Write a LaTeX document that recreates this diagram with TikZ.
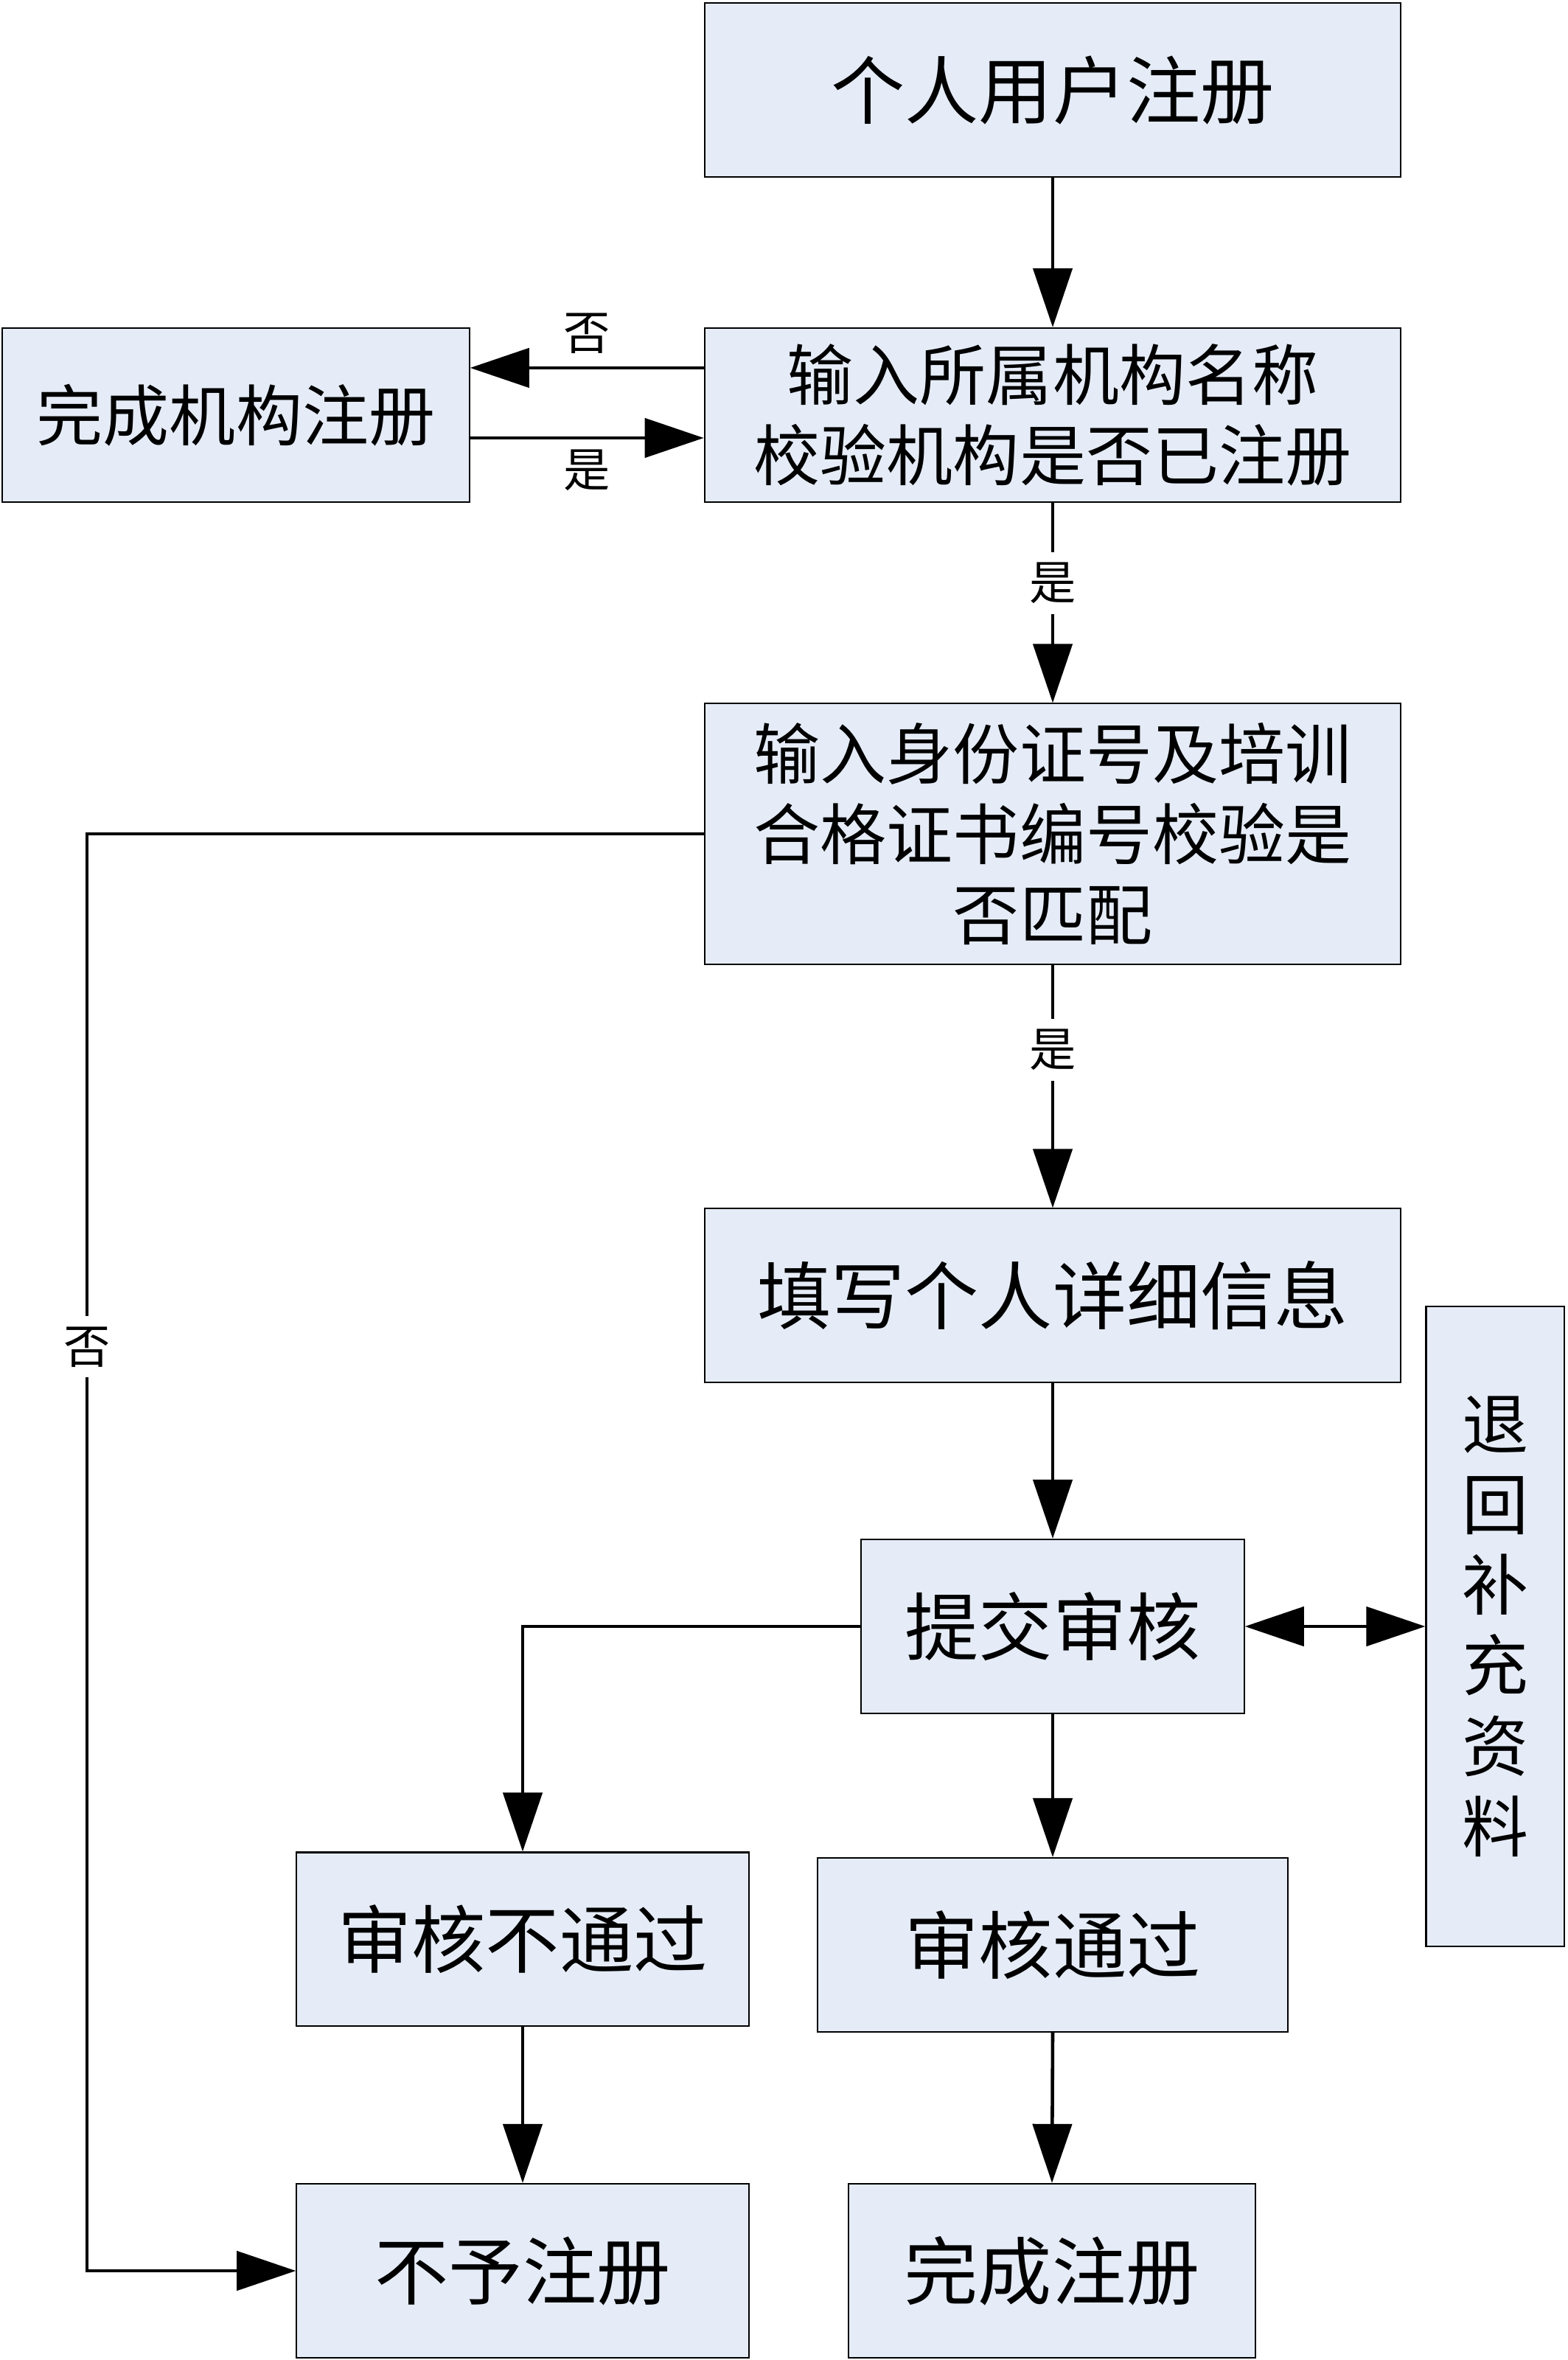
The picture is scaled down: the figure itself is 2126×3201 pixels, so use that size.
\documentclass[tikz,border=0pt]{standalone}
\usepackage{fontspec}
\usepackage{tikz}
\usetikzlibrary{arrows.meta}
\newfontfamily\cjk{Noto Sans CJK SC}
\definecolor{boxblue}{RGB}{229,236,247}

\begin{document}
\begin{tikzpicture}[x=0.01cm, y=-0.01cm,
	box/.style={draw, line width=0.6pt, fill=boxblue, inner sep=0pt, align=center, font=\cjk\fontsize{25.6}{31}\selectfont},
	bigbox/.style={box, font=\cjk\fontsize{28.5}{34}\selectfont},
	arr/.style={line width=1.3pt, -{Triangle[length=8mm, width=5.3mm]}},
	lbl/.style={fill=white, inner sep=4pt, font=\cjk\fontsize{18}{20}\selectfont}]
			\useasboundingbox (0,0) rectangle (2126,3201);

			% boxes
			\node[bigbox, minimum width=94.4mm, minimum height=23.6mm] (user) at (1428,122) {个人用户注册};
			\node[box, minimum width=94.4mm, minimum height=23.6mm] (org) at (1428,563) {输入所属机构名称\\校验机构是否已注册};
			\node[box, minimum width=63.3mm, minimum height=23.6mm] (orgdone) at (320,563) {完成机构注册};
			\node[box, minimum width=94.4mm, minimum height=35.3mm] (id) at (1428,1131) {输入身份证号及培训\\合格证书编号校验是\\否匹配};
			\node[bigbox, minimum width=94.4mm, minimum height=23.5mm] (fill) at (1428,1757) {填写个人详细信息};
			\node[bigbox, minimum width=51.9mm, minimum height=23.6mm] (submit) at (1428,2206) {提交审核};
			\node[box, minimum width=18.7mm, minimum height=86.8mm] (back) at (2028,2206) {退\\回\\补\\充\\资\\料};
			\node[bigbox, minimum width=61.3mm, minimum height=23.5mm] (fail) at (709,2630) {审核不通过};
			\node[bigbox, minimum width=63.7mm, minimum height=23.6mm] (pass) at (1428,2638) {审核通过};
			\node[bigbox, minimum width=61.3mm, minimum height=23.6mm] (refuse) at (709,3080) {不予注册};
			\node[bigbox, minimum width=55.1mm, minimum height=23.6mm] (done) at (1427,3080) {完成注册};

			% arrows
			\foreach \src/\dst in {user/org, fill/submit, submit/pass, fail/refuse, pass/done}
			{
				\draw[arr] (\src.south) -- (\dst.north);
			}
			\draw[arr] (org.south) -- node[lbl, pos=0.4] {是} (id.north);
			\draw[arr] (id.south) -- node[lbl, pos=0.35] {是} (fill.north);
			\draw[arr] ([yshift=6.4mm]org.west) -- node[lbl, above=0.3mm] {否} ([yshift=6.4mm]orgdone.east);
			\draw[arr] ([yshift=-3.1mm]orgdone.east) -- node[lbl, below=0mm] {是} ([yshift=-3.1mm]org.west);

			\coordinate (lane) at (118,0);
			\draw[arr] (id.west) -- (id.west -| lane) -- node[lbl, pos=0.357] {否} (refuse.west -| lane) -- (refuse.west);
			\draw[arr] (submit.west) -| (fail.north);
			\draw[line width=1.3pt, {Triangle[length=8mm, width=5.3mm]}-{Triangle[length=8mm, width=5.3mm]}] (submit.east) -- (back.west);
		\end{tikzpicture}
\end{document}
